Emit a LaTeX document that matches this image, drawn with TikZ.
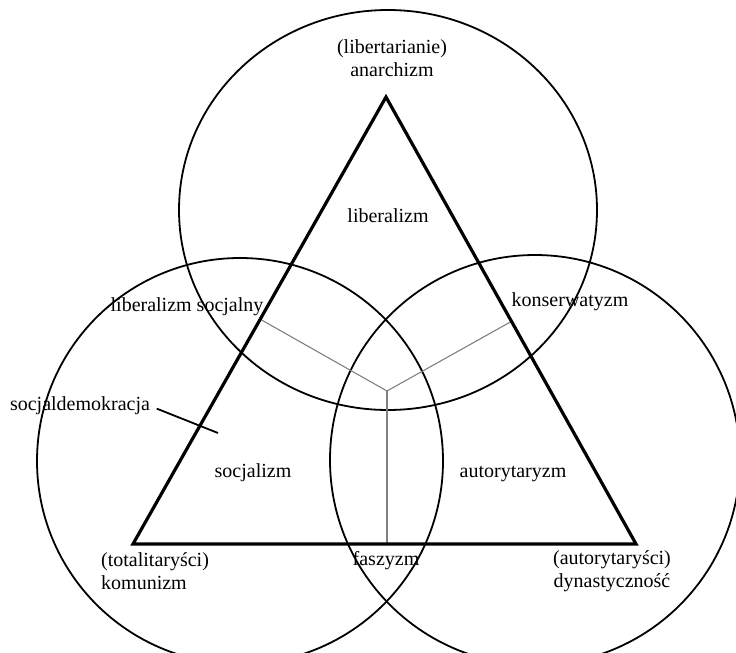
\documentclass[tikz,border=0pt]{standalone}
\usepackage{fontspec}
\setmainfont{Liberation Serif}
\usetikzlibrary{calc,positioning}

\tikzset{
  lbl/.style={font=\fontsize{20}{23}\selectfont, inner sep=0pt, align=center},
  ring/.style={line width=1.8pt},
  edge/.style={line width=3.2pt, line join=miter},
  spoke/.style={gray, line width=1.1pt}
}

\begin{document}
\begin{tikzpicture}[x=1pt,y=-1pt]
  \useasboundingbox (0,0) rectangle (736,653);
  % three circles
  \draw[ring] (388,210) circle[x radius=209pt, y radius=200pt];
  \draw[ring] (240,461) circle[radius=203pt];
  \draw[ring] (535,460) circle[radius=205pt];
  % triangle corners and the hub
  \coordinate (top) at (386,97);
  \coordinate (bl) at (133,544);
  \coordinate (br) at (636,544);
  \coordinate (hub) at (387,391);
  \draw[spoke] (hub) -- ($(top)!(hub)!(bl)$);
  \draw[spoke] (hub) -- ($(top)!(hub)!(br)$);
  \draw[spoke] (hub) -- ($(bl)!(hub)!(br)$);
  \draw[edge] (top) -- (bl) -- (br) -- cycle;
  % labels
  \node[lbl] (anarch) at (392,58) {(libertarianie)\\anarchizm};
  \node[lbl] (lib) at (388,216) {liberalizm};
  \node[lbl] (libsoc) at (187,307) {liberalizm socjalny};
  \node[lbl] (kons) at (570,302) {konserwatyzm};
  \node[lbl] (sdem) at (80,406) {socjaldemokracja};
  \node[lbl] (soc) at (253,473) {socjalizm};
  \node[lbl] (aut) at (513,474) {autorytaryzm};
  \node[lbl, align=left, anchor=west] (kom) at (101,571) {(totalitaryści)\\komunizm};
  \node[lbl] (fasz) at (386,561) {faszyzm};
  \node[lbl] (dyn) at (612,571) {(autorytaryści)\\dynastyczność};
  % pointer from socjaldemokracja
  \coordinate (sdemtip) at (218,433);
  \draw[ring, shorten <=7pt] (sdem.east) -- (sdemtip);
\end{tikzpicture}
\end{document}
